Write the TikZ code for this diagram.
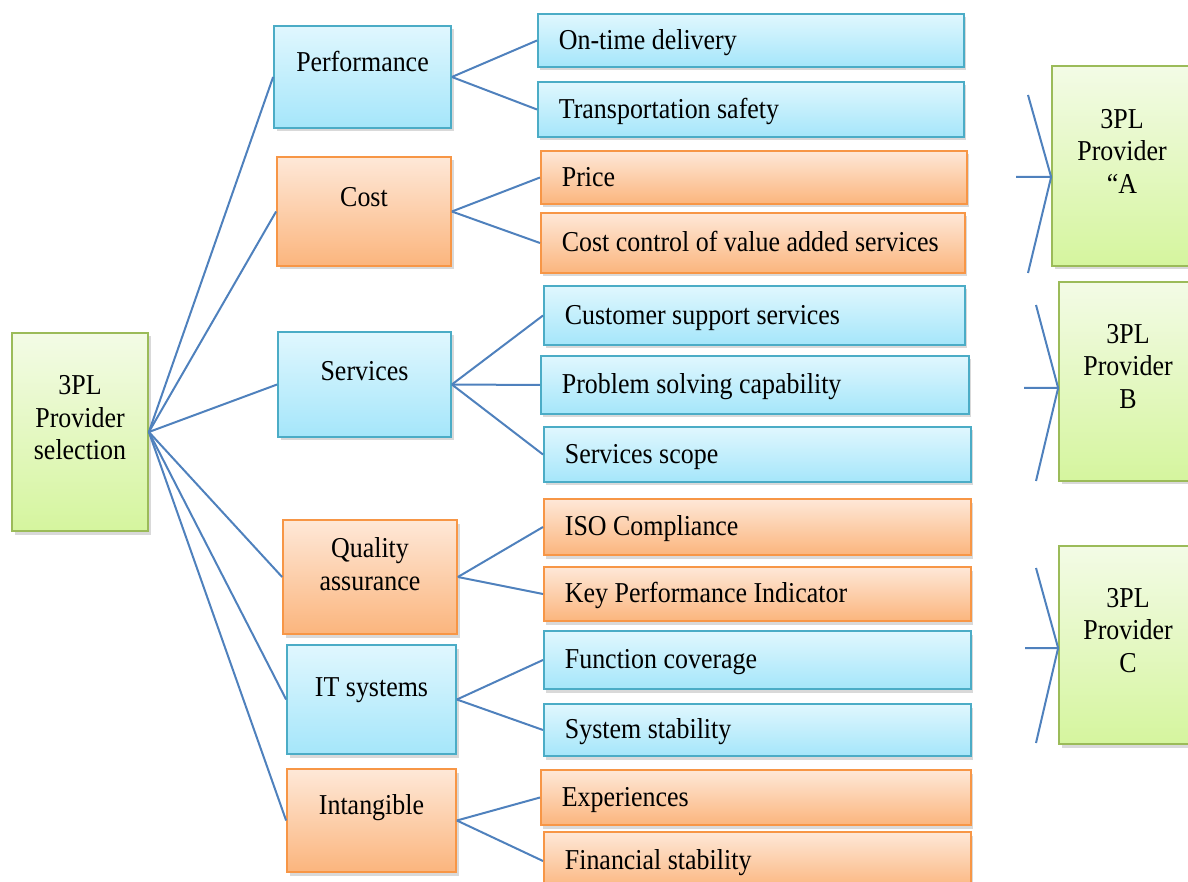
\documentclass[tikz,border=0pt]{standalone}
\usepackage{fontspec}
\setmainfont{Liberation Serif}[FakeStretch=0.9]
\usepackage{tikz}
\usetikzlibrary{shadows}

\definecolor{aquaLine}{HTML}{4BACC6}
\definecolor{aquaTop}{HTML}{E0F7FE}
\definecolor{aquaBot}{HTML}{A5E6FA}
\definecolor{peachLine}{HTML}{F79646}
\definecolor{peachTop}{HTML}{FEE8D8}
\definecolor{peachBot}{HTML}{FBB57D}
\definecolor{limeLine}{HTML}{9BBB59}
\definecolor{limeTop}{HTML}{F3FBE6}
\definecolor{limeBot}{HTML}{D5F59E}
\definecolor{linkBlue}{HTML}{4F81BD}

\begin{document}
\begin{tikzpicture}
  [x=0.2mm,y=-0.2mm,
   box/.style={rectangle,line width=0.35mm,inner sep=0pt,
     drop shadow={shadow xshift=0.5mm,shadow yshift=-0.7mm,opacity=0.3}},
   aqua/.style={box,draw=aquaLine,top color=aquaTop,bottom color=aquaBot},
   peach/.style={box,draw=peachLine,top color=peachTop,bottom color=peachBot},
   lime/.style={box,draw=limeLine,top color=limeTop,bottom color=limeBot},
   dims/.style 2 args={minimum width=#1*0.2mm,minimum height=#2*0.2mm},
   txt/.style={font=\fontsize{16.4pt}{18.5pt}\selectfont,text height=11.8pt,text depth=1.6pt},
   lines/.style={font=\fontsize{16.4pt}{18.5pt}\selectfont,align=center,inner sep=0pt},
   leaf/.style 2 args={txt,anchor=west,minimum width=#1*0.2mm,minimum height=#2*0.2mm,
     text width=#1*0.2mm-8.4mm,align=flush left,inner xsep=4.2mm,inner ysep=0pt},
   link/.style={draw=linkBlue,line width=0.4mm}]
  \useasboundingbox (0,0) rectangle (1188,882);
  % goal and criteria
  \node[lime,dims={136}{198}] (goal) at (80,432) {};
  \node[aqua,dims={177}{102}] (perf) at (362.5,77) {};
  \node[peach,dims={174}{109}] (cost) at (364,211.5) {};
  \node[aqua,dims={173}{105}] (serv) at (364.5,384.5) {};
  \node[peach,dims={174}{114}] (qual) at (370,577) {};
  \node[aqua,dims={169}{109}] (itsys) at (371.5,699.5) {};
  \node[peach,dims={169}{103}] (intang) at (371.5,820.5) {};
  \node[lines] (goal-t) at (80,418) {3PL\\Provider\\selection};
  \node[txt] (perf-t) at (362.5,63) {Performance};
  \node[txt] (cost-t) at (364,198) {Cost};
  \node[txt] (serv-t) at (364.5,372) {Services};
  \node[lines] (qual-t) at (370,564) {Quality\\assurance};
  \node[txt] (itsys-t) at (371.5,688) {IT systems};
  \node[txt] (intang-t) at (371.5,806) {Intangible};
  % sub-criteria
  \node[aqua,leaf={426}{53}] (ontime) at (537,40.5) {On-time delivery};
  \node[aqua,leaf={426}{55}] (safety) at (537,109.5) {Transportation safety};
  \node[peach,leaf={426}{53}] (price) at (540,177.5) {Price};
  \node[peach,leaf={424}{60}] (costctl) at (540,243) {Cost control of value added services};
  \node[aqua,leaf={421}{59}] (support) at (543,315.5) {Customer support services};
  \node[aqua,leaf={428}{58}] (problem) at (540,385) {Problem solving capability};
  \node[aqua,leaf={427}{55}] (scope) at (543,454.5) {Services scope};
  \node[peach,leaf={427}{56}] (iso) at (543,527) {ISO Compliance};
  \node[peach,leaf={427}{54}] (kpi) at (543,594) {Key Performance Indicator};
  \node[aqua,leaf={427}{58}] (func) at (543,660) {Function coverage};
  \node[aqua,leaf={427}{52}] (stable) at (543,730) {System stability};
  \node[peach,leaf={430}{55}] (exper) at (540,797.5) {Experiences};
  \node[peach,leaf={427}{58}] (finance) at (543,861) {Financial stability};
  % alternatives
  \node[lime,dims={140}{200}] (provA) at (1122,166) {};
  \node[lime,dims={140}{199}] (provB) at (1129,381.5) {};
  \node[lime,dims={140}{198}] (provC) at (1129,645) {};
  \node[lines] (provA-t) at (1122,151) {3PL\\Provider\\“A};
  \node[lines] (provB-t) at (1128,366.5) {3PL\\Provider\\B};
  \node[lines] (provC-t) at (1128,630.5) {3PL\\Provider\\C};
  % goal to criteria
  \draw [link] (goal.east) -- (perf.west);
  \draw [link] (goal.east) -- (cost.west);
  \draw [link] (goal.east) -- (serv.west);
  \draw [link] (goal.east) -- (qual.west);
  \draw [link] (goal.east) -- (itsys.west);
  \draw [link] (goal.east) -- (intang.west);
  % criteria to sub-criteria
  \draw [link] (perf.east) -- (ontime.west);
  \draw [link] (perf.east) -- (safety.west);
  \draw [link] (cost.east) -- (price.west);
  \draw [link] (cost.east) -- (costctl.west);
  \draw [link] (serv.east) -- (support.west);
  \draw [link] (serv.east) -- (problem.west);
  \draw [link] (serv.east) -- (scope.west);
  \draw [link] (qual.east) -- (iso.west);
  \draw [link] (qual.east) -- (kpi.west);
  \draw [link] (itsys.east) -- (func.west);
  \draw [link] (itsys.east) -- (stable.west);
  \draw [link] (intang.east) -- (exper.west);
  \draw [link] (intang.east) -- (finance.west);
  % fans into the alternatives
  \coordinate (a-in) at ([yshift=-2.2mm]provA.west);
  \coordinate (a-top) at (1028,95);
  \coordinate (a-left) at (1016,177);
  \coordinate (a-bot) at (1028,273);
  \coordinate (b-in) at ([yshift=-1.3mm]provB.west);
  \coordinate (b-top) at (1036,305);
  \coordinate (b-left) at (1024,388);
  \coordinate (b-bot) at (1036,481);
  \coordinate (c-in) at ([yshift=-0.6mm]provC.west);
  \coordinate (c-top) at (1036,568);
  \coordinate (c-left) at (1025,648);
  \coordinate (c-bot) at (1036,743);
  \draw [link] (a-top) -- (a-in);
  \draw [link] (a-left) -- (a-in);
  \draw [link] (a-in) -- (a-bot);
  \draw [link] (b-top) -- (b-in);
  \draw [link] (b-left) -- (b-in);
  \draw [link] (b-in) -- (b-bot);
  \draw [link] (c-top) -- (c-in);
  \draw [link] (c-left) -- (c-in);
  \draw [link] (c-in) -- (c-bot);
\end{tikzpicture}
\end{document}
